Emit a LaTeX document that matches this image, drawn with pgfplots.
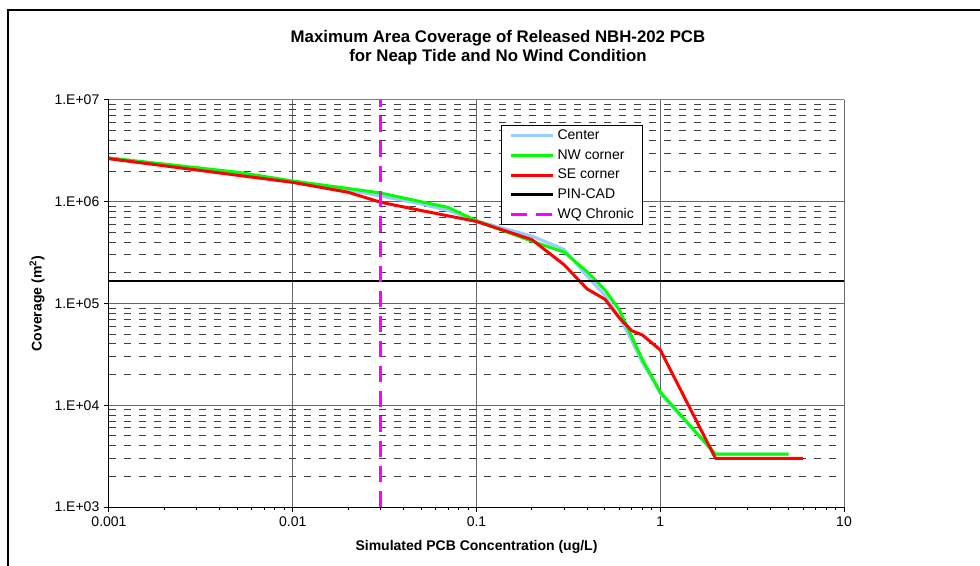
\documentclass[border=0pt]{standalone}
\usepackage{fontspec}
\setmainfont{Liberation Sans}
\usepackage{pgfplots}
\pgfplotsset{compat=1.18}
\definecolor{cblue}{HTML}{99CCFF}
\definecolor{cgreen}{HTML}{00FF00}
\definecolor{cred}{HTML}{FF0000}
\definecolor{cmag}{HTML}{FF00FF}
\begin{document}
\begin{tikzpicture}
\useasboundingbox (0,0) rectangle (735pt,423.75pt);
\fill[white] (0,0) rectangle (735pt,423.75pt);
\draw[line width=1.6pt] (6pt,-5pt) -- (6pt,416.25pt) -- (745pt,416.25pt);
\node[anchor=base, font=\fontsize{12.6}{15}\selectfont\bfseries] at (373.5pt,391.5pt) {Maximum Area Coverage of Released NBH-202 PCB};
\node[anchor=base, font=\fontsize{12.6}{15}\selectfont\bfseries] at (373.5pt,377.25pt) {for Neap Tide and No Wind Condition};
\begin{axis}[
  at={(81.75pt,43.5pt)}, anchor=south west,
  scale only axis, width=551.25pt, height=305.25pt,
  xmode=log, ymode=log,
  xmin=0.001, xmax=10, ymin=1e3, ymax=1e7,
  xtick={0.001,0.01,0.1,1,10},
  xticklabels={0.001,0.01,0.1,1,10},
  minor xtick={0.002,0.003,0.004,0.005,0.006,0.007,0.008,0.009,0.02,0.03,0.04,0.05,0.06,0.07,0.08,0.09,0.2,0.3,0.4,0.5,0.6,0.7,0.8,0.9,2,3,4,5,6,7,8,9},
  ytick={1e3,1e4,1e5,1e6,1e7},
  yticklabels={1.E+03,1.E+04,1.E+05,1.E+06,1.E+07},
  yminorticks=false,
  axis x line*=bottom, axis y line*=left,
  axis line style={-, black, line width=0.75pt},
  tick align=outside,
  major tick length=3.75pt, minor tick length=2.25pt,
  tick style={black, line width=0.75pt},
  xmajorgrids, ymajorgrids,
  major grid style={black!60, line width=0.75pt},
  extra y ticks={2e3,3e3,4e3,5e3,6e3,7e3,8e3,9e3,2e4,3e4,4e4,5e4,6e4,7e4,8e4,9e4,2e5,3e5,4e5,5e5,6e5,7e5,8e5,9e5,2e6,3e6,4e6,5e6,6e6,7e6,8e6,9e6},
  extra y tick style={grid=major, yticklabel={}, major tick length=0pt, major grid style={black!75, line width=0.75pt, dash pattern=on 5pt off 6.25pt}},
  tick label style={font=\fontsize{10.5}{12}\selectfont},
  /pgf/number format/assume math mode=true,
  every axis x label/.style={at={(axis description cs:0.5,0)}, yshift=-30pt, anchor=center, font=\fontsize{10.5}{12}\selectfont\bfseries},
  every axis y label/.style={at={(axis description cs:0,0.5)}, xshift=-54pt, rotate=90, anchor=center, font=\fontsize{10.5}{12}\selectfont\bfseries},
  xlabel={Simulated PCB Concentration (ug/L)},
  ylabel={Coverage (m\textsuperscript{2})},
  legend style={at={(0.533,0.9386)}, anchor=north west, draw=black, line width=0.75pt, fill=white,
    font=\fontsize{10.5}{12}\selectfont, inner xsep=6.5pt, inner ysep=3pt, row sep=5.2pt, column sep=2pt,
    nodes={inner sep=0pt, text height=7.6pt, text depth=1.9pt}},
  legend cell align=left,
  legend image code/.code={\draw[#1] (0pt,0pt) -- (31.5pt,0pt);},
]
\addplot[cblue, line width=2.25pt, line join=round] coordinates {
(0.001,2.65e6) (0.005,1.9e6) (0.01,1.57e6) (0.02,1.3e6) (0.03,1.14e6) (0.05,9.5e5) (0.07,8.2e5)
(0.1,6.5e5) (0.2,4.6e5) (0.3,3.4e5) (0.4,1.85e5) (0.5,1.2e5) (0.6,7.3e4) (0.7,4.3e4) (0.8,2.6e4)
(0.9,1.85e4) (1,1.3e4) (2,3.3e3) (5,3.3e3)};
\addlegendentry{Center}
\addplot[cgreen, line width=2.25pt, line join=round] coordinates {
(0.001,2.7e6) (0.005,1.95e6) (0.01,1.6e6) (0.02,1.35e6) (0.03,1.22e6) (0.05,1.0e6) (0.07,8.8e5)
(0.1,6.5e5) (0.2,4.1e5) (0.3,3.2e5) (0.4,2.05e5) (0.5,1.36e5) (0.6,8.6e4) (0.7,4.7e4) (0.8,2.8e4)
(0.9,1.9e4) (1,1.35e4) (2,3.3e3) (5,3.3e3)};
\addlegendentry{NW corner}
\addplot[cred, line width=2.25pt, line join=round] coordinates {
(0.001,2.65e6) (0.01,1.55e6) (0.02,1.24e6) (0.03,9.9e5) (0.05,8.2e5)
(0.1,6.4e5) (0.2,4.25e5) (0.3,2.4e5) (0.4,1.39e5) (0.5,1.1e5) (0.6,7.2e4) (0.7,5.4e4) (0.8,4.9e4)
(0.9,4.1e4) (1,3.5e4) (2,3.0e3) (6,3.0e3)};
\addlegendentry{SE corner}
\addplot[black, line width=1.8pt] coordinates {(0.001,1.67e5) (10,1.67e5)};
\addlegendentry{PIN-CAD}
\addplot[cmag, line width=2.25pt, dash pattern=on 12pt off 6.75pt] coordinates {(0.03,1e3) (0.03,1e7)};
\addlegendentry{WQ Chronic}
\draw[black!50, line width=0.75pt] (rel axis cs:0,1) -- (rel axis cs:1,1) -- (rel axis cs:1,0);
\end{axis}
\end{tikzpicture}
\end{document}
